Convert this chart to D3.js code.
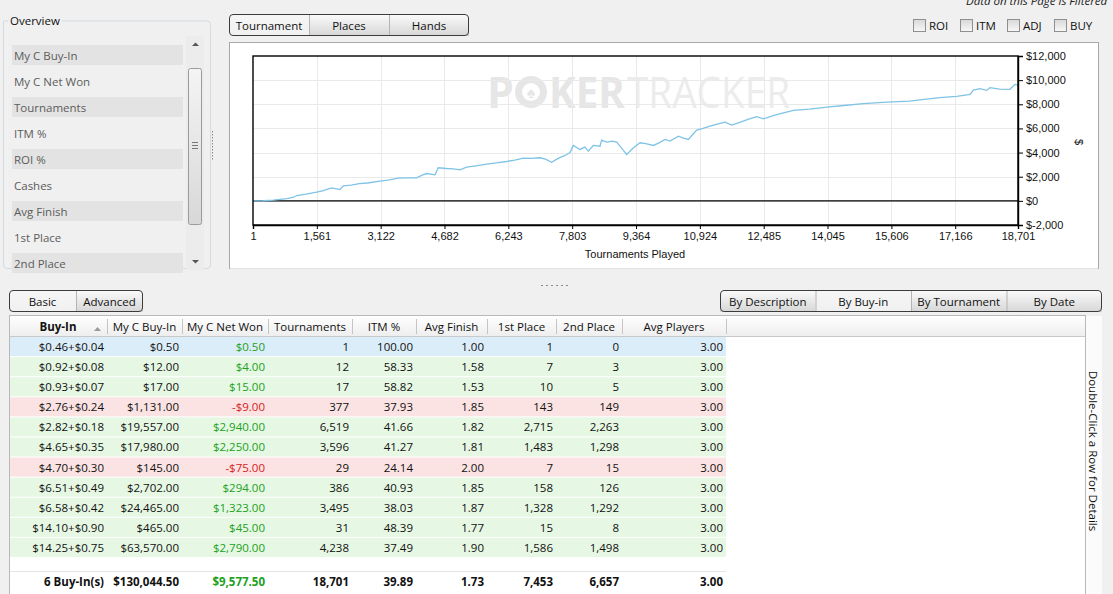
<!DOCTYPE html>
<html>
<head>
<meta charset="utf-8">
<script src="https://cdn.jsdelivr.net/npm/d3@7"></script>
<style>
  html, body { margin: 0; padding: 0; background: #f0f0f0; overflow: hidden; }
  svg { display: block; font-family: "Open Sans", "Noto Sans", sans-serif; }
</style>
</head>
<body>
<svg id="app" width="1113" height="594"></svg>
<script>
// cumulative net won (tournament #, dollars)
const tournamentNo = [1, 250, 500, 824, 1000, 1068, 1300, 1557, 1700, 1924, 2050, 2127, 2208, 2400, 2600, 2800,
  3104, 3300, 3553, 3800, 4001, 4150, 4246, 4449, 4530, 4734, 4900, 5060, 5223, 5450, 5712, 5950, 6201, 6400,
  6608, 6800, 7016, 7150, 7301, 7450, 7627, 7750, 7831, 7994, 8116, 8197, 8320, 8483, 8524, 8646, 8780, 8891,
  8972, 9050, 9135, 9300, 9461, 9600, 9787, 9950, 10072, 10195, 10398, 10520, 10643, 10847, 11000, 11173,
  11350, 11540, 11703, 11900, 12100, 12314, 12477, 12800, 13210, 13600, 14025, 14450, 14920, 15500, 16060,
  16400, 16794, 17200, 17528, 17609, 17772, 17935, 18016, 18250, 18505, 18627, 18701];
const netWon = [0, 10, 60, 190, 300, 440, 560, 715, 830, 1080, 1000, 940, 1245, 1300, 1420, 1480,
  1630, 1720, 1880, 1900, 1910, 2150, 2265, 2160, 2740, 2680, 2650, 2570, 2790, 2900, 3040, 3150, 3260, 3380,
  3540, 3520, 3570, 3450, 3200, 3500, 3760, 4000, 4590, 4260, 4450, 4120, 4590, 4530, 5030, 4870, 4950, 4870,
  4530, 4200, 3840, 4400, 4810, 4750, 4590, 4850, 5090, 4950, 5360, 5200, 5090, 5860, 6000, 6190,
  6350, 6520, 6270, 6500, 6750, 6970, 6800, 7150, 7490, 7600, 7770, 7900, 8050, 8180, 8270,
  8400, 8550, 8650, 8820, 9180, 9300, 9150, 9380, 9250, 9240, 9650, 9577.5];

const xTicks = [1, 1561, 3122, 4682, 6243, 7803, 9364, 10924, 12485, 14045, 15606, 17166, 18701];
const yTicks = [-2000, 0, 2000, 4000, 6000, 8000, 10000, 12000];

const overviewItems = ["My C Buy-In", "My C Net Won", "Tournaments", "ITM %", "ROI %", "Cashes", "Avg Finish", "1st Place", "2nd Place"];
const chartTabs = ["Tournament", "Places", "Hands"];
const checkLabels = ["ROI", "ITM", "ADJ", "BUY"];
const viewTabs = ["Basic", "Advanced"];
const groupTabs = ["By Description", "By Buy-in", "By Tournament", "By Date"];

const columns = ["Buy-In", "My C Buy-In", "My C Net Won", "Tournaments", "ITM %", "Avg Finish", "1st Place", "2nd Place", "Avg Players"];
const buyIns = ["$0.46+$0.04", "$0.92+$0.08", "$0.93+$0.07", "$2.76+$0.24", "$2.82+$0.18", "$4.65+$0.35",
  "$4.70+$0.30", "$6.51+$0.49", "$6.58+$0.42", "$14.10+$0.90", "$14.25+$0.75"];
const myCBuyIn = [0.5, 12, 17, 1131, 19557, 17980, 145, 2702, 24465, 465, 63570];
const myCNetWon = [0.5, 4, 15, -9, 2940, 2250, -75, 294, 1323, 45, 2790];
const tourneys = [1, 12, 17, 377, 6519, 3596, 29, 386, 3495, 31, 4238];
const itmPct = [100, 58.33, 58.82, 37.93, 41.66, 41.27, 24.14, 40.93, 38.03, 48.39, 37.49];
const avgFinish = [1.00, 1.58, 1.53, 1.85, 1.82, 1.81, 2.00, 1.85, 1.87, 1.77, 1.90];
const firstPlace = [1, 7, 10, 143, 2715, 1483, 7, 158, 1328, 15, 1586];
const secondPlace = [0, 3, 5, 149, 2263, 1298, 15, 126, 1292, 8, 1498];
const avgPlayers = [3, 3, 3, 3, 3, 3, 3, 3, 3, 3, 3];
const totals = ["6 Buy-In(s)", "$130,044.50", "$9,577.50", "18,701", "39.89", "1.73", "7,453", "6,657", "3.00"];

const svg = d3.select("#app");
const defs = svg.append("defs");
const UI = 11.5;

function grad(id, c1, c2) {
  const g = defs.append("linearGradient").attr("id", id).attr("x1", 0).attr("y1", 0).attr("x2", 0).attr("y2", 1);
  g.append("stop").attr("offset", "0%").attr("stop-color", c1);
  g.append("stop").attr("offset", "100%").attr("stop-color", c2);
}
grad("btn", "#fbfbfb", "#d6d6d6");
grad("btnSel", "#f6f6f6", "#f0f0f0");
grad("hdr", "#ffffff", "#eeeeee");
grad("thumb", "#f4f4f4", "#d8d8d8");
grad("chk", "#d8d8d8", "#f8f8f8");

const money2 = v => (v < 0 ? "-$" : "$") + d3.format(",.2f")(Math.abs(v));
const int = d3.format(",");
const dec2 = d3.format(".2f");

// ---------- Overview panel ----------
svg.append("path")
  .attr("d", "M8,21 H3.5 V265 Q3.5,268.5 7,268.5 H207 Q210.5,268.5 210.5,265 V24.5 Q210.5,21 207,21 H62")
  .attr("fill", "none").attr("stroke", "#d3dbe0");
svg.append("text").attr("x", 10).attr("y", 25).attr("font-size", UI).attr("fill", "#111").text("Overview");

const ov = svg.append("g");
ov.selectAll("rect").data(overviewItems).join("rect")
  .attr("x", 12).attr("y", (d, i) => 45 + i * 26).attr("width", 171).attr("height", 20)
  .attr("fill", (d, i) => i % 2 === 0 ? "#e3e3e3" : "none");
ov.selectAll("text").data(overviewItems).join("text")
  .attr("x", 14).attr("y", (d, i) => 59.5 + i * 26).attr("font-size", UI).attr("fill", "#5c5c5c").text(d => d);

// scrollbar
svg.append("rect").attr("x", 186).attr("y", 36).attr("width", 18).attr("height", 234).attr("fill", "#ececec");
svg.append("path").attr("d", "M192,46 L195.5,42.5 L199,46 Z").attr("fill", "#555");
svg.append("path").attr("d", "M192,260 L195.5,263.5 L199,260 Z").attr("fill", "#555");
svg.append("rect").attr("x", 188.5).attr("y", 68.5).attr("width", 13).attr("height", 156).attr("rx", 2)
  .attr("fill", "url(#thumb)").attr("stroke", "#9b9b9b");
[142, 145, 148].forEach(y => svg.append("line").attr("x1", 192).attr("x2", 198).attr("y1", y + 0.5).attr("y2", y + 0.5).attr("stroke", "#777"));

// splitter grips
d3.range(131, 159, 3).forEach(y => svg.append("rect").attr("x", 212).attr("y", y).attr("width", 1).attr("height", 1.5).attr("fill", "#8a8a8a"));
d3.range(541, 571, 5).forEach(x => svg.append("rect").attr("x", x).attr("y", 285).attr("width", 2).attr("height", 1).attr("fill", "#8a8a8a"));

// ---------- segmented buttons ----------
function segButtons(labels, x0, x1, y, sel) {
  const g = svg.append("g");
  const sx = d3.scaleBand().domain(labels).range([x0, x1]);
  g.selectAll("rect.seg").data(labels).join("rect").attr("class", "seg")
    .attr("x", d => sx(d)).attr("y", y).attr("width", sx.bandwidth()).attr("height", 22)
    .attr("fill", d => d === sel ? "url(#btnSel)" : "url(#btn)");
  g.selectAll("line").data(labels.slice(1)).join("line")
    .attr("x1", d => sx(d) + 0.5).attr("x2", d => sx(d) + 0.5).attr("y1", y + 1).attr("y2", y + 21).attr("stroke", "#b4b4b4");
  g.append("rect").attr("x", x0 + 0.5).attr("y", y + 0.5).attr("width", x1 - x0 - 1).attr("height", 21)
    .attr("rx", 3.5).attr("fill", "none").attr("stroke", "#3c3c3c");
  g.selectAll("text").data(labels).join("text")
    .attr("x", d => sx(d) + sx.bandwidth() / 2).attr("y", y + 15.5).attr("text-anchor", "middle")
    .attr("font-size", UI).attr("fill", "#111").text(d => d);
}
segButtons(chartTabs, 229, 469, 14, "Tournament");
segButtons(viewTabs, 9, 143, 290, "Basic");
segButtons(groupTabs, 720, 1102, 290, "By Buy-in");

// filtered note (cut off at the top, as on screen) and checkboxes
svg.append("text").attr("x", 966).attr("y", 5).attr("font-size", UI).attr("font-style", "italic").attr("fill", "#222")
  .text("Data on this Page is Filtered");
const chk = svg.append("g");
const chkX = d3.scalePoint().domain(checkLabels).range([913, 1054]);
chk.selectAll("rect").data(checkLabels).join("rect")
  .attr("x", d => chkX(d) + 0.5).attr("y", 19.5).attr("width", 12).attr("height", 12)
  .attr("fill", "url(#chk)").attr("stroke", "#8e8f8f");
chk.selectAll("text").data(checkLabels).join("text")
  .attr("x", d => chkX(d) + 16).attr("y", 30).attr("font-size", UI).attr("fill", "#111").text(d => d);

// ---------- chart ----------
svg.append("rect").attr("x", 229.5).attr("y", 42.5).attr("width", 869).attr("height", 226)
  .attr("fill", "#fff").attr("stroke", "#a8a8a8");
svg.append("line").attr("x1", 230).attr("x2", 1098).attr("y1", 268.5).attr("y2", 268.5).attr("stroke", "#e2e2e2");

const x = d3.scaleLinear().domain([1, 18701]).range([253, 1018]);
const y = d3.scaleLinear().domain([-2000, 12000]).range([225, 56]);

const plot = svg.append("g").attr("font-family", "'Liberation Sans', Arial, sans-serif");

// watermark
const wm = plot.append("g").attr("fill", "#e6e6e6").attr("font-family", "'Open Sans', sans-serif");
wm.append("text").attr("x", 487).attr("y", 108).attr("font-size", 43).attr("font-weight", 700).text("P");
wm.append("circle").attr("cx", 531).attr("cy", 92).attr("r", 16).attr("fill", "#e6e6e6");
wm.append("circle").attr("cx", 531).attr("cy", 92).attr("r", 9).attr("fill", "#fff");
wm.append("text").attr("x", 531).attr("y", 98).attr("text-anchor", "middle").attr("font-size", 16).attr("fill", "#e6e6e6").text("\u2660");
wm.append("text").attr("x", 549).attr("y", 108).attr("font-size", 43).attr("font-weight", 700)
  .attr("textLength", 76).attr("lengthAdjust", "spacingAndGlyphs").text("KER");
wm.append("text").attr("x", 627).attr("y", 108).attr("font-size", 43).attr("font-weight", 400).attr("fill", "#ececec")
  .attr("textLength", 163).attr("lengthAdjust", "spacingAndGlyphs").text("TRACKER");

// grid
plot.append("g").selectAll("line").data(xTicks.slice(1, -1)).join("line")
  .attr("x1", d => Math.round(x(d)) + 0.5).attr("x2", d => Math.round(x(d)) + 0.5)
  .attr("y1", 56).attr("y2", 225).attr("stroke", "#e9e9e9");
plot.append("g").selectAll("line").data(yTicks.slice(1, -1)).join("line")
  .attr("x1", 253).attr("x2", 1018)
  .attr("y1", d => Math.round(y(d)) + 0.5).attr("y2", d => Math.round(y(d)) + 0.5).attr("stroke", "#e9e9e9");

// zero line
plot.append("line").attr("x1", 253).attr("x2", 1018).attr("y1", y(0)).attr("y2", y(0))
  .attr("stroke", "#000").attr("stroke-width", 1.4);

// series
const series = d3.zip(tournamentNo, netWon);
plot.append("path").datum(series)
  .attr("fill", "none").attr("stroke", "#7fc3e6").attr("stroke-width", 1.3)
  .attr("d", d3.line().x(d => x(d[0])).y(d => y(d[1])));

// frame
plot.append("rect").attr("x", 253).attr("y", 56).attr("width", 765).attr("height", 169)
  .attr("fill", "none").attr("stroke", "#000").attr("stroke-width", 1.4);

// axes
const yAxis = plot.append("g").attr("transform", "translate(1018,0)")
  .call(d3.axisRight(y).tickValues(yTicks).tickSize(5).tickPadding(3)
    .tickFormat(v => "$" + int(v).replace("\u2212", "-")));
const xAxis = plot.append("g").attr("transform", "translate(0,225)")
  .call(d3.axisBottom(x).tickValues(xTicks).tickSize(4).tickPadding(3).tickFormat(int));
[yAxis, xAxis].forEach(a => {
  a.select(".domain").attr("stroke", "#000").attr("stroke-width", 1.4);
  a.selectAll(".tick line").attr("stroke", "#000");
  a.selectAll("text").attr("font-size", 11).attr("fill", "#111").attr("font-family", "'Liberation Sans', Arial, sans-serif");
});
plot.append("text").attr("x", 635).attr("y", 258).attr("text-anchor", "middle").attr("font-size", 11).attr("fill", "#111")
  .text("Tournaments Played");
plot.append("text").attr("transform", "translate(1075,142) rotate(90)").attr("text-anchor", "middle")
  .attr("font-size", 11).attr("fill", "#111").text("$");

// ---------- table ----------
const colEdges = [9, 107, 182, 268, 352, 416, 487, 556, 622, 726];
svg.append("rect").attr("x", 9.5).attr("y", 315.5).attr("width", 1076).attr("height", 280)
  .attr("fill", "#fff").attr("stroke", "#b9b9b9");
svg.append("rect").attr("x", 1086).attr("y", 316).attr("width", 16).attr("height", 278).attr("fill", "#fbfbfb");
svg.append("rect").attr("x", 10).attr("y", 316).attr("width", 1075).attr("height", 20).attr("fill", "url(#hdr)");
svg.append("line").attr("x1", 10).attr("x2", 1085).attr("y1", 336.5).attr("y2", 336.5).attr("stroke", "#c9c9c9");
svg.append("g").selectAll("line").data(colEdges.slice(1)).join("line")
  .attr("x1", d => d + 0.5).attr("x2", d => d + 0.5).attr("y1", 319).attr("y2", 334).attr("stroke", "#c4c4c4");
svg.append("g").selectAll("text").data(columns).join("text")
  .attr("x", (d, i) => i === 0 ? 58 : (colEdges[i] + colEdges[i + 1]) / 2).attr("y", 331)
  .attr("text-anchor", "middle").attr("font-size", UI).attr("fill", "#111")
  .attr("font-weight", (d, i) => i === 0 ? 700 : 400).text(d => d);
svg.append("path").attr("d", "M94,331 L97.5,327 L101,331 Z").attr("fill", "#9a9a9a");

const rowY = d3.scaleBand().domain(d3.range(buyIns.length)).range([337, 557]).paddingInner(0.05);
const rowFill = i => i === 0 ? "#dcedfa" : (myCNetWon[i] < 0 ? "#fce3e3" : "#e6f8e4");
const tbl = svg.append("g");
tbl.selectAll("rect").data(buyIns).join("rect")
  .attr("x", 10).attr("y", (d, i) => rowY(i)).attr("width", 716).attr("height", rowY.bandwidth())
  .attr("fill", (d, i) => rowFill(i));

const colData = [
  buyIns,
  myCBuyIn.map(money2),
  myCNetWon.map(money2),
  tourneys.map(int),
  itmPct.map(dec2),
  avgFinish.map(dec2),
  firstPlace.map(int),
  secondPlace.map(int),
  avgPlayers.map(dec2)
];
colData.forEach((vals, c) => {
  tbl.append("g").selectAll("text").data(vals).join("text")
    .attr("x", colEdges[c + 1] - 3).attr("y", (d, i) => rowY(i) + 14)
    .attr("text-anchor", "end").attr("font-size", UI)
    .attr("fill", (d, i) => c === 2 ? (myCNetWon[i] < 0 ? "#d42020" : "#21a021") : "#111")
    .text(d => d);
});

svg.append("line").attr("x1", 10).attr("x2", 726).attr("y1", 571.5).attr("y2", 571.5).attr("stroke", "#e4e4e4");
svg.append("g").selectAll("text").data(totals).join("text")
  .attr("x", (d, i) => colEdges[i + 1] - 3).attr("y", 586)
  .attr("text-anchor", "end").attr("font-size", UI).attr("font-weight", 700)
  .attr("fill", (d, i) => i === 2 ? "#21a021" : "#111").text(d => d);

svg.append("text").attr("transform", "translate(1089,451) rotate(90)").attr("text-anchor", "middle")
  .attr("font-size", UI).attr("fill", "#111").text("Double-Click a Row for Details");
</script>
</body>
</html>
